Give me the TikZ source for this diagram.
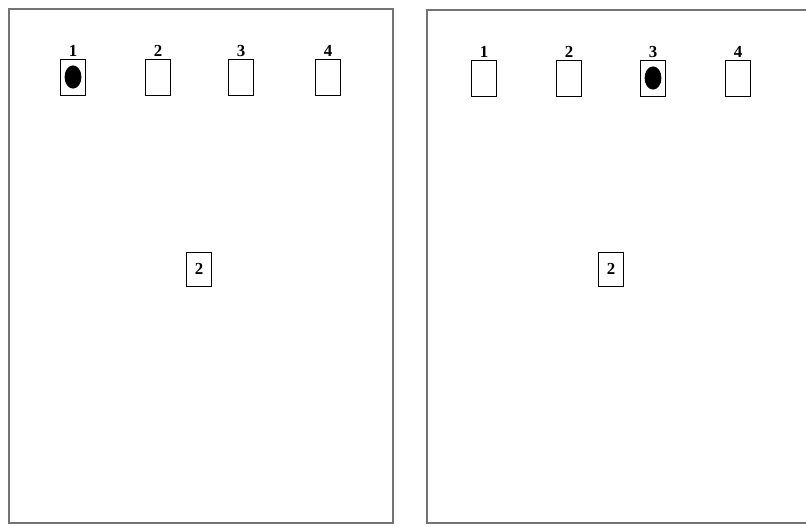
\documentclass[tikz,border=0pt]{standalone}
\usepackage{fontspec}
\setmainfont{Liberation Serif}
\usetikzlibrary{positioning,shapes.geometric}

\begin{document}
\begin{tikzpicture}[x=0.025cm, y=-0.025cm,
    panel/.style={draw=black!55, line width=1.4pt},
    slot/.style={rectangle, draw, line width=0.6pt, minimum width=0.62cm, minimum height=0.9cm, inner sep=0pt},
    num/.style={font=\bfseries\large, inner sep=0pt},
    token/.style={ellipse, fill=black, minimum width=0.42cm, minimum height=0.58cm, inner sep=0pt}]

    \useasboundingbox (0,0) rectangle (806,526);
    \clip (0,0) rectangle (806,526);

    % the two panels
    \draw[panel] (9,9) rectangle (393,523);
    \draw[panel] (427,10) rectangle (812,523);

    % left panel, slots 1 to 4
    \foreach \i/\x in {1/73, 2/158, 3/241, 4/328} {
        \node[slot] (ls\i) at (\x,77) {};
        \node[num, above=1pt of ls\i] (ln\i) {\i};
    }
    \node[token] (ltok) at (ls1) {};
    \node[slot, minimum height=0.85cm, font=\bfseries\large] (lmid) at (199,269) {2};

    % right panel, slots 1 to 4
    \foreach \i/\x in {1/484, 2/569, 3/653, 4/738} {
        \node[slot] (rs\i) at (\x,78) {};
        \node[num, above=1pt of rs\i] (rn\i) {\i};
    }
    \node[token] (rtok) at (rs3) {};
    \node[slot, minimum height=0.85cm, font=\bfseries\large] (rmid) at (611,269) {2};
\end{tikzpicture}
\end{document}
